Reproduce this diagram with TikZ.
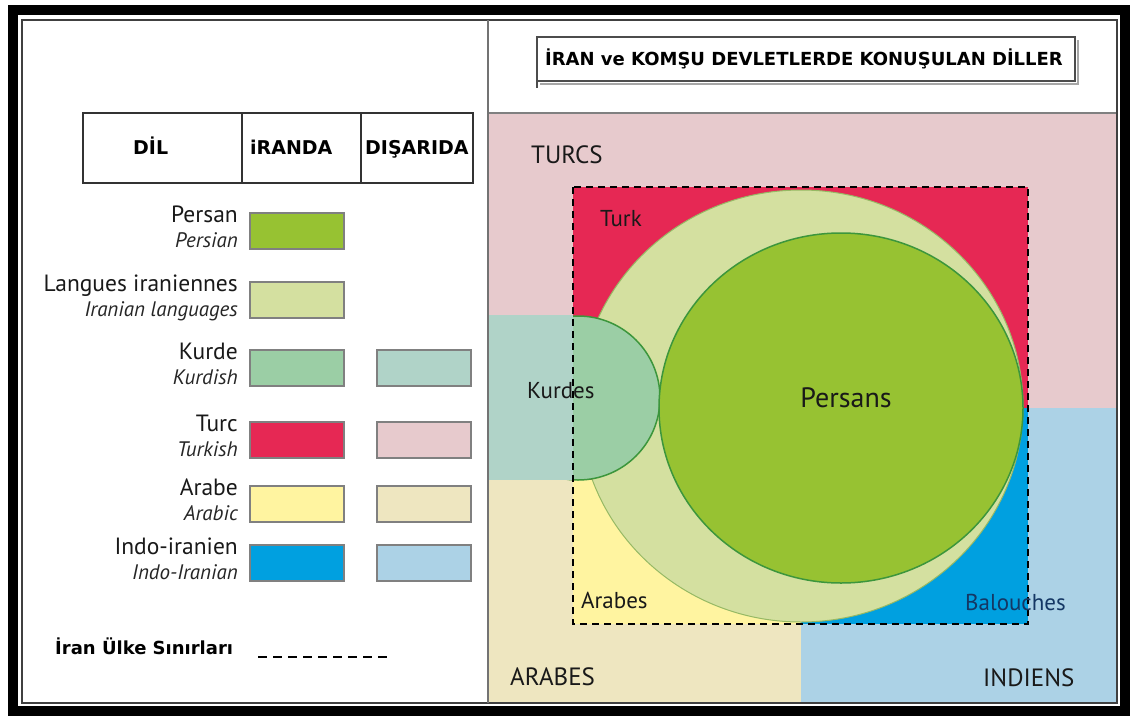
\documentclass[tikz,border=0pt]{standalone}
\usepackage{fontspec}
\setmainfont{PT Sans}
\newfontfamily\headfont{DejaVu Sans}

\definecolor{turcout}{RGB}{231,202,205}
\definecolor{turcin}{RGB}{230,40,84}
\definecolor{kurdout}{RGB}{176,211,200}
\definecolor{kurdin}{RGB}{155,206,165}
\definecolor{arabout}{RGB}{238,230,192}
\definecolor{arabin}{RGB}{255,244,160}
\definecolor{indoout}{RGB}{172,210,230}
\definecolor{indoin}{RGB}{0,160,224}
\definecolor{iranin}{RGB}{212,224,160}
\definecolor{persin}{RGB}{151,194,50}
\definecolor{persline}{RGB}{60,150,60}
\definecolor{iranline}{RGB}{150,185,100}

\begin{document}
\begin{tikzpicture}[x=1pt,y=-1pt,
    swatch/.style={draw=black!50, line width=1.2},
    lgtop/.style={anchor=base east, inner sep=0, font=\fontsize{23.5}{26}\selectfont, text=black!90},
    lgbot/.style={anchor=base east, inner sep=0, font=\itshape\fontsize{21}{24}\selectfont, text=black!85},
    head/.style={anchor=base west, inner sep=0, font=\headfont\bfseries\fontsize{19}{22}\selectfont},
    zone/.style={anchor=base west, inner sep=0, font=\fontsize{25}{28}\selectfont, text=black!90},
    group/.style={anchor=base west, inner sep=0, font=\fontsize{23}{26}\selectfont, text=black!90}]
    \useasboundingbox (0,0) rectangle (1134,720);
    \fill[white] (0,0) rectangle (1134,720);

    % frame
    \draw[line width=10] (12.5,10) rectangle (1125,711);
    \draw[black!75, line width=2] (22,20) rectangle (1117,703);
    \draw[black!55, line width=1.5] (488,20) -- (488,703);

    % title
    \draw[black!35, line width=2] (540,84) -- (1078,84) -- (1078,40);
    \draw[black!70, line width=1.5] (537,37) rectangle (1075,81);
    \draw[black!70, line width=1.5] (537,81) -- (537,88);
    \node[anchor=base, inner sep=0, font=\headfont\bfseries\fontsize{18}{21}\selectfont] (title) at (804,65) {İRAN ve KOMŞU DEVLETLERDE KONUŞULAN DİLLER};

    % table head
    \draw[black!80, line width=1.5] (83,113) rectangle (473,183);
    \draw[black!80, line width=1.5] (242,113) -- (242,183);
    \draw[black!80, line width=1.5] (361,113) -- (361,183);
    \node[head] (dil) at (133,154) {DİL};
    \node[head] (iranda) at (250,154) {iRANDA};
    \node[head] (disarida) at (365,154) {DIŞARIDA};

    % legend
    \foreach \fr/\en/\cy/\col [count=\i] in {Persan/Persian/231/persin, Langues iraniennes/Iranian languages/300/iranin, Kurde/Kurdish/368/kurdin, Turc/Turkish/440/turcin, Arabe/Arabic/504/arabin, Indo-iranien/Indo-Iranian/563/indoin}
    {
        \node[lgtop] (fr\i) at (238,\cy-9) {\fr};
        \node[lgbot] (en\i) at (238,\cy+16) {\en};
        \filldraw[swatch, fill=\col] (250,\cy-18) rectangle (344,\cy+18);
    }
    \foreach \cy/\col in {368/kurdout, 440/turcout, 504/arabout, 563/indoout}
        \filldraw[swatch, fill=\col] (377,\cy-18) rectangle (471,\cy+18);

    \node[anchor=base west, inner sep=0, font=\headfont\bfseries\fontsize{18}{21}\selectfont] (sinir) at (55,654) {İran Ülke Sınırları};
    \coordinate (sinirA) at (258,657);
    \coordinate (sinirB) at (388,657);
    \draw[line width=2.5, dash pattern=on 9 off 6] (sinirA) -- (sinirB);

    % map, outside Iran
    \fill[turcout] (489,113) rectangle (1116,702);
    \draw[black!50, line width=1.5] (489,113) -- (1116,113);
    \fill[arabout] (489,480) rectangle (801,702);
    \fill[indoout] (801,408) rectangle (1116,702);

    % map, inside Iran
    \fill[turcin] (573,187) rectangle (1028,624);
    \fill[arabin] (573,480) rectangle (801,624);
    \fill[indoin] (801,408) rectangle (1028,624);
    \filldraw[fill=iranin, draw=iranline, line width=1] (801,406) ellipse [x radius=222pt, y radius=216pt];
    \filldraw[fill=kurdin, draw=persline, line width=1.5] (578,398) circle [radius=82pt];
    \fill[kurdout] (489,315) rectangle (573,480);
    \filldraw[fill=persin, draw=persline, line width=1.5] (841,408) ellipse [x radius=182pt, y radius=175pt];
    \draw[line width=2.5, dash pattern=on 7 off 5] (573,187) rectangle (1028,624);

    % map labels
    \node[zone] (turcs) at (531,163) {TURCS};
    \node[zone] (arabes) at (510,685) {ARABES};
    \node[zone] (indiens) at (983,686) {INDIENS};
    \node[group] (turk) at (600,226) {Turk};
    \node[group] (kurdes) at (527,398) {Kurdes};
    \node[group] (arab) at (581,608) {Arabes};
    \node[group, text={rgb,255:red,20;green,55;blue,100}] (balouch) at (965,610) {Balouches};
    \node[anchor=base, inner sep=0, font=\fontsize{28}{32}\selectfont, text=black!90] (persans) at (846,407) {Persans};
\end{tikzpicture}
\end{document}
